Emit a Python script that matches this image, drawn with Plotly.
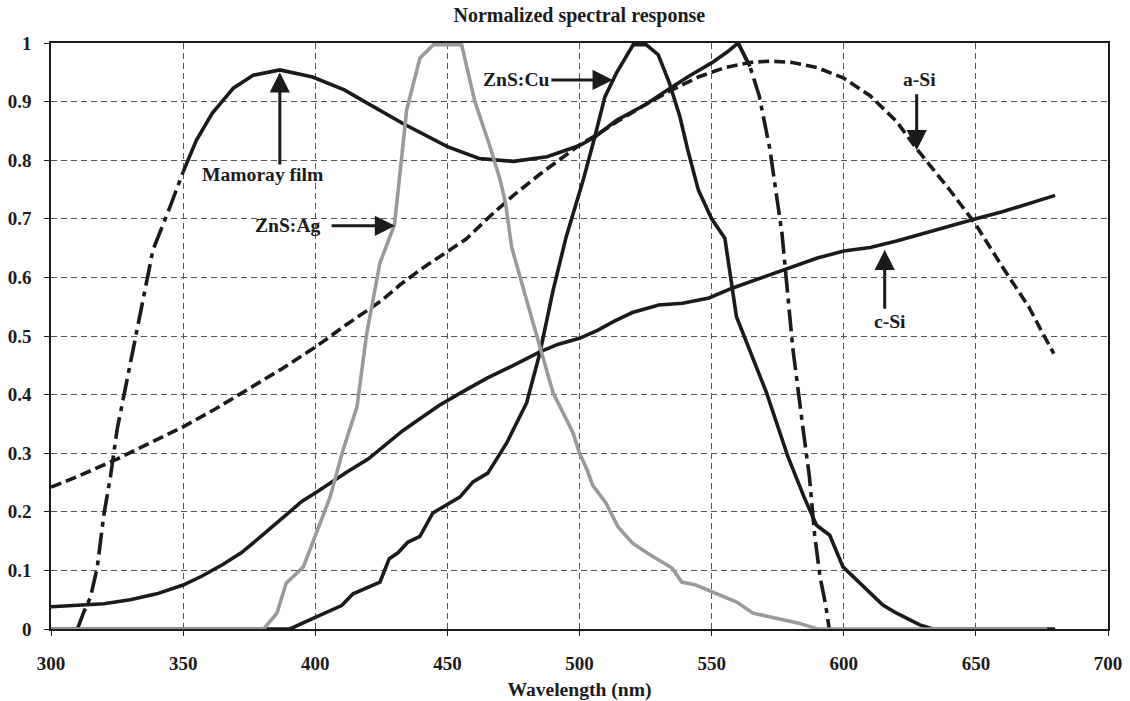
import numpy as np
import plotly.graph_objects as go

# ---------------- data ----------------
mamoray_x = [310, 312.5, 315, 317.5, 320, 322.5, 325, 330, 334, 338.6, 345, 350, 355, 361, 369,
             376.5, 386.6, 399, 411, 421, 433, 450, 462, 475, 487.7, 500, 506, 514, 525, 534,
             542, 550, 556, 560, 564.5, 568, 572, 576.6, 580.7, 584.5, 587, 589, 591, 593.2, 594.5]
mamoray_y = [0, 0.03, 0.055, 0.105, 0.195, 0.26, 0.34, 0.454, 0.54, 0.647, 0.72, 0.78, 0.834, 0.88, 0.923,
             0.945, 0.954, 0.942, 0.92, 0.894, 0.863, 0.823, 0.803, 0.798, 0.806, 0.825, 0.84, 0.868, 0.895, 0.922,
             0.945, 0.966, 0.985, 1.0, 0.96, 0.91, 0.82, 0.676, 0.48, 0.345, 0.26, 0.16, 0.09, 0.04, 0]

asi_x = [300, 310, 325, 340, 350, 362, 375, 387, 400, 412, 425, 432, 440, 447, 457, 466, 475, 485, 492,
         500, 506, 515, 525, 535, 545, 555, 565, 572, 580, 590, 600, 610, 620, 628, 640, 650, 660, 670,
         675, 679.5]
asi_y = [0.242, 0.26, 0.29, 0.323, 0.345, 0.375, 0.41, 0.443, 0.481, 0.52, 0.56, 0.587, 0.614, 0.635, 0.665,
         0.704, 0.74, 0.776, 0.80, 0.826, 0.842, 0.868, 0.895, 0.92, 0.942, 0.958, 0.967, 0.969, 0.967, 0.958,
         0.94, 0.91, 0.866, 0.817, 0.75, 0.69, 0.618, 0.55, 0.507, 0.47]

csi_x = [300, 310, 320, 330, 340, 350, 357, 365, 372, 380, 385, 390, 395, 400, 406, 412, 420, 427, 433,
         440, 447, 455, 465, 475, 485, 492, 500, 507, 513, 520, 530, 539, 549, 558, 565, 572, 580, 590,
         600, 610, 620, 630, 640, 650, 660, 670, 680]
csi_y = [0.038, 0.04, 0.043, 0.05, 0.06, 0.075, 0.09, 0.11, 0.13, 0.16, 0.18, 0.2, 0.218, 0.232, 0.25,
         0.268, 0.29, 0.315, 0.338, 0.36, 0.382, 0.403, 0.428, 0.45, 0.473, 0.486, 0.496, 0.51, 0.525,
         0.54, 0.553, 0.556, 0.565, 0.582, 0.593, 0.604, 0.618, 0.633, 0.645, 0.651, 0.662, 0.675, 0.688,
         0.70, 0.712, 0.726, 0.74]

zncu_x = [300, 390.4, 400, 410, 414.3, 424.5, 428, 431.3, 435, 439.6, 444.5, 454.7, 459.7, 465.3, 472.4,
          480, 485, 490, 495, 501.4, 505.8, 509.6, 514, 520.3, 525.3, 529.8, 534, 538, 541, 545, 550,
          555, 559.4, 565, 570.8, 578.8, 585, 589.7, 594.7, 599.7, 605, 614.8, 620, 628.8, 633.7, 680]
zncu_y = [0, 0, 0.02, 0.04, 0.06, 0.08, 0.12, 0.13, 0.148, 0.158, 0.198, 0.225, 0.251, 0.266, 0.317,
          0.386, 0.471, 0.578, 0.67, 0.766, 0.84, 0.908, 0.949, 0.997, 0.997, 0.98, 0.932, 0.874, 0.817,
          0.749, 0.70, 0.667, 0.533, 0.47, 0.403, 0.295, 0.225, 0.177, 0.16, 0.106, 0.083, 0.041, 0.027,
          0.007, 0, 0]

znag_x = [300, 380.5, 385.5, 389, 395.5, 400, 405.6, 410.5, 415.8, 419.5, 424.5, 430, 434.6, 439.6, 444.7,
          455.4, 460.4, 466, 470, 472, 474.3, 480, 485, 490, 497.6, 500, 503, 505, 510, 514.6, 520,
          525.5, 535, 538.7, 544, 552, 559.5, 565.6, 575, 583, 590, 677]
znag_y = [0, 0, 0.027, 0.078, 0.106, 0.16, 0.225, 0.305, 0.379, 0.505, 0.625, 0.69, 0.886, 0.974, 0.997,
          0.997, 0.9, 0.825, 0.766, 0.727, 0.652, 0.561, 0.482, 0.403, 0.334, 0.30, 0.27, 0.245, 0.215,
          0.174, 0.147, 0.13, 0.104, 0.08, 0.075, 0.06, 0.046, 0.027, 0.018, 0.01, 0, 0]

x_ticks = [300, 350, 400, 450, 500, 550, 600, 650, 700]
y_ticks = [0, 0.1, 0.2, 0.3, 0.4, 0.5, 0.6, 0.7, 0.8, 0.9, 1]
y_tick_text = ["0", "0.1", "0.2", "0.3", "0.4", "0.5", "0.6", "0.7", "0.8", "0.9", "1"]

title_text = "Normalized spectral response"
x_title = "Wavelength (nm)"

# ---------------- figure ----------------
BLACK = "#1b1b1b"
GRAY = "#9a9a9a"
FONT = "Liberation Serif"
LW = 3.6
FS = 19

fig = go.Figure()

fig.add_trace(go.Scatter(x=asi_x, y=asi_y, mode="lines",
                         line=dict(color=BLACK, width=LW, dash="11px,5px")))
fig.add_trace(go.Scatter(x=csi_x, y=csi_y, mode="lines",
                         line=dict(color=BLACK, width=LW)))

mx = np.array(mamoray_x)
my = np.array(mamoray_y)
left = mx <= 350
mid = (mx >= 350) & (mx <= 564.5)
right = mx >= 560
fig.add_trace(go.Scatter(x=mx[left], y=my[left], mode="lines",
                         line=dict(color=BLACK, width=LW, dash="22px,6px,5px,6px")))
fig.add_trace(go.Scatter(x=mx[mid], y=my[mid], mode="lines",
                         line=dict(color=BLACK, width=LW)))
fig.add_trace(go.Scatter(x=mx[right], y=my[right], mode="lines",
                         line=dict(color=BLACK, width=LW, dash="22px,6px,5px,6px")))

fig.add_trace(go.Scatter(x=zncu_x, y=zncu_y, mode="lines",
                         line=dict(color=BLACK, width=LW)))
fig.add_trace(go.Scatter(x=znag_x, y=znag_y, mode="lines",
                         line=dict(color=GRAY, width=LW)))

afont = dict(family=FONT, size=19.6, color=BLACK)


def label(text, x, y):
    fig.add_annotation(x=x, y=y, xref="x", yref="y", text="<b>%s</b>" % text,
                       showarrow=False, font=afont)


def arrow(x, y, ax, ay):
    fig.add_annotation(x=x, y=y, ax=ax, ay=ay, xref="x", yref="y", axref="x", ayref="y",
                       text="", showarrow=True, arrowhead=2, arrowsize=1.35, arrowwidth=3,
                       arrowcolor=BLACK, standoff=0, startstandoff=0)


label("Mamoray film", 380.2, 0.776)
arrow(386.6, 0.950, 386.6, 0.79)
label("ZnS:Cu", 476.3, 0.937)
arrow(512.6, 0.937, 488.8, 0.937)
label("ZnS:Ag", 389.7, 0.688)
arrow(430.2, 0.688, 405.6, 0.688)
label("a-Si", 628.8, 0.937)
arrow(627.6, 0.817, 627.6, 0.915)
label("c-Si", 617.4, 0.524)
arrow(615.5, 0.647, 615.5, 0.544)

fig.update_layout(
    width=1130, height=701,
    margin=dict(l=51, r=22, t=43, b=72, autoexpand=False),
    paper_bgcolor="white", plot_bgcolor="white",
    showlegend=False, hovermode=False,
    font=dict(family=FONT, color=BLACK),
    title=dict(text="<b>%s</b>" % title_text, x=0.5127, xanchor="center",
               y=1 - 15 / 701, yanchor="middle", font=dict(family=FONT, size=20, color=BLACK)),
)

fig.update_xaxes(
    range=[300, 700], tickvals=x_ticks, ticktext=[str(v) for v in x_ticks],
    showline=True, linecolor=BLACK, linewidth=1.5, mirror=True,
    ticks="outside", ticklen=5, tickwidth=1.2, tickcolor=BLACK,
    showgrid=True, gridcolor="#555555", gridwidth=1, griddash="6px,4px",
    zeroline=False, ticklabelstandoff=11, automargin=False,
    tickfont=dict(family=FONT, size=FS, color=BLACK, weight="bold"),
    title=dict(text="<b>%s</b>" % x_title, font=dict(family=FONT, size=19.6, color=BLACK), standoff=10),
)
fig.update_yaxes(
    range=[0, 1], tickvals=y_ticks, ticktext=y_tick_text,
    showline=True, linecolor=BLACK, linewidth=1.5, mirror=True,
    ticks="outside", ticklen=5, tickwidth=1.2, tickcolor=BLACK,
    showgrid=True, gridcolor="#555555", gridwidth=1, griddash="6px,4px",
    zeroline=False, ticklabelstandoff=9, automargin=False,
    tickfont=dict(family=FONT, size=FS, color=BLACK, weight="bold"),
)

fig.write_html("out.html")
